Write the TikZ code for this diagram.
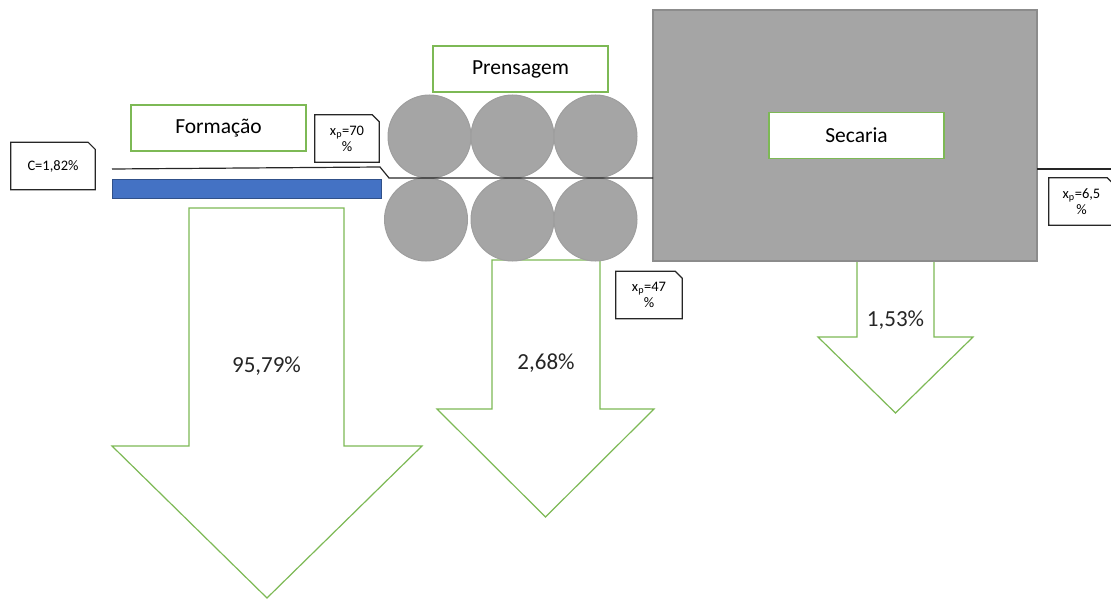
\documentclass[tikz,border=0pt]{standalone}
\usepackage{fontspec}
\setmainfont{Carlito}
\definecolor{boxgreen}{RGB}{125,185,85}
\definecolor{rollgray}{RGB}{165,165,165}
\definecolor{feltblue}{RGB}{68,114,196}
\tikzset{
        label box/.style={draw=boxgreen, line width=1.3pt, fill=white, minimum width=175pt,
          minimum height=46pt, inner sep=0pt, font=\fontsize{21.5}{25}\selectfont},
        callout/.style={fill=white, inner sep=0pt, minimum height=47pt, align=center,
          font=\fontsize{14.5}{16}\selectfont},
        roll/.style={circle, fill=rollgray, draw=black!38, line width=1pt, minimum size=83pt, inner sep=0pt},
        flow/.style={draw=boxgreen, line width=1.2pt, fill=white},
        pct/.style={font=\fontsize{23}{27}\selectfont, text=black!85}
}
\begin{document}
\begin{tikzpicture}[x=1pt,y=-1pt]
        \useasboundingbox (0,0) rectangle (1111,599);
        \foreach \nm/\sl/\sr/\st/\sb/\hl/\hr/\tip/\ly/\pc in {form/189/344/208/446/112/422/598/366/{95,79\%},
          prens/492/600/260/409/437/654/517/363/{2,68\%}, sec/857/934/261/337/818/973/413/320/{1,53\%}}{%
        \draw [flow] (\sl,\st) -- (\sr,\st) -- (\sr,\sb) -- (\hr,\sb) -- ({(\hl+\hr)/2},\tip)
          -- (\hl,\sb) -- (\sl,\sb) -- cycle;
        \node [pct] (loss \nm) at ({(\sl+\sr)/2},\ly) {\pc};
        }
        \node [draw=black!45, line width=1.2pt, fill=rollgray, minimum width=384pt,
          minimum height=251pt, inner sep=0pt] (secaria box) at (845,135.5) {};
        \foreach \i/\xt/\xb in {1/429.5/426, 2/512.5/512.5, 3/595.5/595.5}{%
        \node [roll] (top \i) at (\xt,136.5) {};
        \node [roll] (bottom \i) at (\xb,219.5) {};
        }
        \filldraw [fill=feltblue, draw=feltblue!70!black, line width=1pt] (112,179) rectangle (381,198);
        \draw [line width=1.2pt, black!85] (112,169) -- (380,167) -- (389,178) -- (653,178);
        \draw [line width=1.2pt, black!85] (1037,169) -- (1111,169);
        \node [label box] (formacao) at (218.5,128) {Formação};
        \node [label box] (prensagem) at (520.5,69) {Prensagem};
        \node [label box] (secaria) at (856.5,135.5) {Secaria};
        \foreach \nm/\pos/\w/\txt in {conc/{53,166}/84/{C=1,82\%}, xp70/{347,138.5}/64/{x\textsubscript{p}=70\\\%},
          xp47/{649,295}/66/{x\textsubscript{p}=47\\\%}, xp65/{1081.5,201.5}/65/{x\textsubscript{p}=6,5\\\%}}{%
        \node [callout, minimum width=\w pt] (\nm) at (\pos) {\txt};
        \draw [line width=1.2pt, black!85] (\nm.south west) -- (\nm.north west) -- ([xshift=-7pt]\nm.north east)
          -- ([yshift=-7pt]\nm.north east) -- (\nm.south east) -- cycle;
        }
\end{tikzpicture}
\end{document}
